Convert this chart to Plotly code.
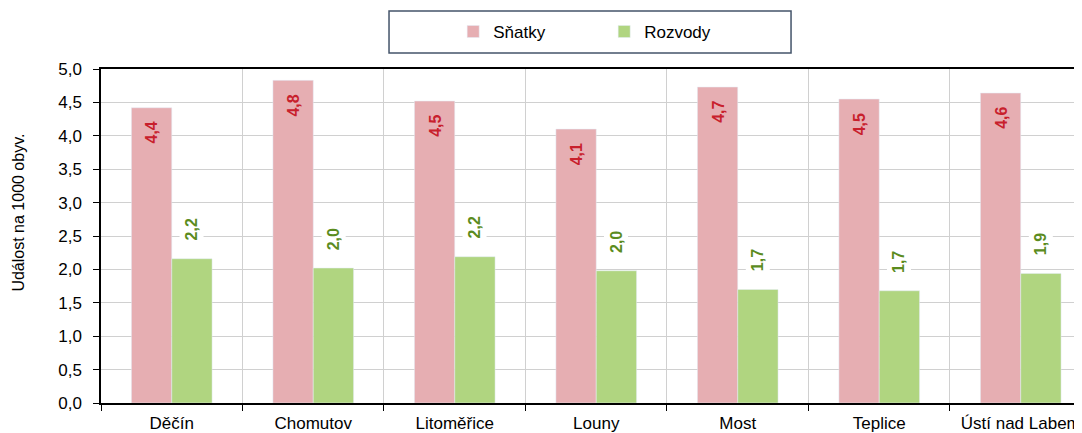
import plotly.graph_objects as go

# ── data ──────────────────────────────────────────────────────
districts = ["Děčín", "Chomutov", "Litoměřice", "Louny", "Most", "Teplice", "Ústí nad Labem"]
snatky    = [4.42, 4.83, 4.52, 4.10, 4.73, 4.55, 4.64]
rozvody   = [2.16, 2.02, 2.19, 1.98, 1.70, 1.68, 1.94]

PINK      = "#E6AEB2"
GREEN     = "#B0D580"
RED_TXT   = "#C8202C"
GREEN_TXT = "#5B8C1E"
FONT      = "Liberation Sans, Arial, sans-serif"

fig = go.Figure()
fig.add_trace(go.Bar(x=districts, y=snatky, name="Sňatky", marker_color=PINK))
fig.add_trace(go.Bar(x=districts, y=rozvody, name="Rozvody", marker_color=GREEN))

# data labels, rotated
for d, s, r in zip(districts, snatky, rozvody):
    fig.add_annotation(
        x=d, y=s, xshift=-20, yshift=-12, yanchor="top",
        text=f"<b>{s:.1f}</b>".replace(".", ","), textangle=-90,
        showarrow=False, font=dict(color=RED_TXT, size=16, family=FONT),
    )
    fig.add_annotation(
        x=d, y=r, xshift=20, yshift=14, yanchor="bottom",
        text=f"<b>{r:.1f}</b>".replace(".", ","), textangle=-90,
        showarrow=False, bgcolor="white", borderpad=3,
        font=dict(color=GREEN_TXT, size=16, family=FONT),
    )

# y-axis title (sits a bit above the axis middle, as in the original)
fig.add_annotation(
    text="Událost na 1000 obyv.", textangle=-90, showarrow=False,
    xref="paper", yref="paper", x=-0.0836, y=0.57,
    xanchor="center", yanchor="middle", borderpad=0,
    font=dict(size=16, family=FONT, color="#000000"),
)

# legend frame
fig.add_shape(
    type="rect", xref="paper", yref="paper",
    x0=0.2936, x1=0.7034, y0=1.048, y1=1.174,
    line=dict(color="#44546A", width=1.5), fillcolor="rgba(0,0,0,0)",
)

fig.update_layout(
    width=1074, height=425,
    plot_bgcolor="white", paper_bgcolor="white",
    separators=", ",
    barmode="group", bargap=0.43, bargroupgap=0,
    font=dict(family=FONT, size=16, color="#000000"),
    margin=dict(l=93, r=0, t=61, b=30, autoexpand=False),
    showlegend=True,
    legend=dict(
        orientation="h", x=0.359, y=1.111, xanchor="left", yanchor="middle",
        bgcolor="rgba(0,0,0,0)", entrywidth=106, entrywidthmode="pixels",
        font=dict(size=17, family=FONT), traceorder="normal",
    ),
    xaxis=dict(
        range=[-0.5, 6.433], tickson="boundaries",
        showgrid=True, gridcolor="#D0D0D0", gridwidth=1,
        showline=True, linecolor="black", linewidth=1.5, mirror=True,
        ticks="outside", ticklen=6, tickcolor="black",
        tickfont=dict(size=17), ticklabelstandoff=4, fixedrange=True,
    ),
    yaxis=dict(
        range=[0, 5], dtick=0.5, tickformat=".1f",
        showgrid=True, gridcolor="#D0D0D0", gridwidth=1,
        showline=True, linecolor="black", linewidth=1.5,
        ticks="outside", ticklen=6, tickcolor="black",
        tickfont=dict(size=17), ticklabelstandoff=8, zeroline=False,
    ),
)

fig.write_html("out.html")
